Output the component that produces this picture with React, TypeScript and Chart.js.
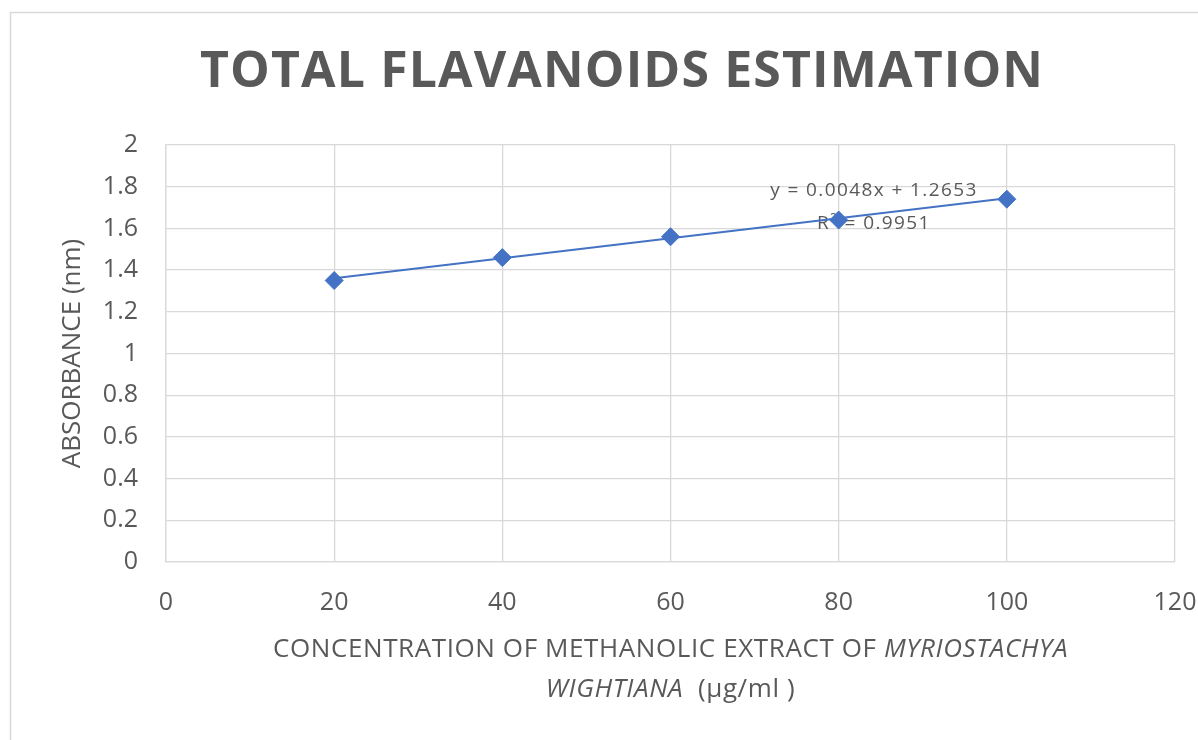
import React, { useEffect, useRef } from "react";
import { Chart, registerables } from "chart.js";

Chart.register(...registerables);

const chartTitle = "TOTAL FLAVANOIDS ESTIMATION";
const yAxisTitle = "ABSORBANCE (nm)";
const xTitleLine1 = [
  { text: "CONCENTRATION OF METHANOLIC EXTRACT OF ", italic: false },
  { text: "MYRIOSTACHYA", italic: true },
];
const xTitleLine2 = [
  { text: "WIGHTIANA", italic: true },
  { text: "  (µg/ml )", italic: false },
];
const equationText = "y = 0.0048x + 1.2653";
const r2Text = "R² = 0.9951";

const concentrations = [20, 40, 60, 80, 100];
const absorbance = [1.35, 1.46, 1.56, 1.64, 1.74];
const trendX = [20, 100];
const trendY = [1.361, 1.745];

const TEXT = "#595959";
const GRID = "#d9d9d9";
const BLUE = "#4472C4";
const FONT = "'Open Sans', 'Noto Sans', sans-serif";

const decorPlugin = {
  id: "decor",
  beforeDatasetsDraw(chart: any) {
    const ctx = chart.ctx;
    const xs = chart.scales.x;
    const ys = chart.scales.y;
    ctx.save();
    ctx.fillStyle = TEXT;
    ctx.font = `19px ${FONT}`;
    (ctx as any).letterSpacing = "1.4px";
    ctx.textAlign = "center";
    ctx.textBaseline = "middle";
    ctx.fillText(equationText, xs.getPixelForValue(84.2), ys.getPixelForValue(1.78));
    ctx.fillText(r2Text, xs.getPixelForValue(84.2), ys.getPixelForValue(1.625));
    ctx.restore();
  },
  afterDraw(chart: any) {
    const ctx = chart.ctx;
    const area = chart.chartArea;
    ctx.save();
    // outer frame
    ctx.strokeStyle = GRID;
    ctx.lineWidth = 1.5;
    ctx.strokeRect(10.5, 12.5, 1300, 800);

    // title
    ctx.fillStyle = TEXT;
    ctx.font = `bold 50px ${FONT}`;
    ctx.textAlign = "left";
    ctx.textBaseline = "middle";
    const target = 843;
    const n = chartTitle.length;
    const w0 = ctx.measureText(chartTitle).width;
    const spacing = (target - w0) / (n - 1);
    let tx = 200;
    for (const ch of chartTitle) {
      ctx.fillText(ch, tx, 73);
      tx += ctx.measureText(ch).width + spacing;
    }

    // y axis title
    ctx.font = `26px ${FONT}`;
    ctx.textAlign = "center";
    ctx.save();
    ctx.translate(73, (area.top + area.bottom) / 2);
    ctx.rotate(-Math.PI / 2);
    ctx.fillText(yAxisTitle, 0, 0);
    ctx.restore();

    // x axis title (mixed italic)
    (ctx as any).letterSpacing = "0.6px";
    const drawRich = (segs: any[], cx: number, cy: number) => {
      const fontFor = (it: boolean) => `${it ? "italic " : ""}26px ${FONT}`;
      let total = 0;
      for (const s of segs) {
        ctx.font = fontFor(s.italic);
        total += ctx.measureText(s.text).width;
      }
      let x = cx - total / 2;
      ctx.textAlign = "left";
      for (const s of segs) {
        ctx.font = fontFor(s.italic);
        ctx.fillText(s.text, x, cy);
        x += ctx.measureText(s.text).width;
      }
    };
    const cx = (area.left + area.right) / 2;
    drawRich(xTitleLine1, cx, 650);
    drawRich(xTitleLine2, cx, 690);
    ctx.restore();
  },
};

export default function App() {
  const ref = useRef<HTMLCanvasElement | null>(null);
  useEffect(() => {
    if (!ref.current) return;
    const chart = new Chart(ref.current, {
      type: "scatter",
      data: {
        datasets: [
          {
            type: "line",
            data: trendX.map((x, i) => ({ x, y: trendY[i] })),
            borderColor: BLUE,
            borderWidth: 2,
            pointRadius: 0,
            fill: false,
          },
          {
            type: "scatter",
            data: concentrations.map((x, i) => ({ x, y: absorbance[i] })),
            backgroundColor: BLUE,
            borderColor: BLUE,
            pointStyle: "rectRot",
            pointRadius: 9,
            borderWidth: 1,
          },
        ],
      },
      options: {
        animation: false,
        responsive: true,
        maintainAspectRatio: false,
        layout: { padding: { top: 145, right: 23, left: 0, bottom: 0 } },
        plugins: {
          legend: { display: false },
          title: { display: false },
          tooltip: { enabled: false },
        },
        scales: {
          x: {
            type: "linear",
            min: 0,
            max: 120,
            afterFit: (s: any) => {
              s.height = 178;
              s.paddingLeft = 0;
              s.paddingRight = 0;
            },
            ticks: {
              stepSize: 20,
              color: TEXT,
              padding: 26,
              font: { family: FONT, size: 25 },
            },
            grid: { color: GRID, lineWidth: 1.3, drawTicks: false },
            border: { display: true, color: GRID, width: 1.3 },
          },
          y: {
            type: "linear",
            min: 0,
            max: 2,
            afterFit: (s: any) => {
              s.width = 166;
              s.paddingTop = 0;
              s.paddingBottom = 0;
            },
            ticks: {
              stepSize: 0.2,
              color: TEXT,
              padding: 28,
              font: { family: FONT, size: 25 },
              callback: (v: any) => String(Number(Number(v).toFixed(1))),
            },
            grid: { color: GRID, lineWidth: 1.3, drawTicks: false },
            border: { display: true, color: GRID, width: 1.3 },
          },
        },
      },
      plugins: [decorPlugin],
    });
    return () => chart.destroy();
  }, []);
  return (
    <div style={{ position: "fixed", left: 0, top: 0, width: 1198, height: 740, background: "#fff" }}>
      <canvas ref={ref} />
    </div>
  );
}
